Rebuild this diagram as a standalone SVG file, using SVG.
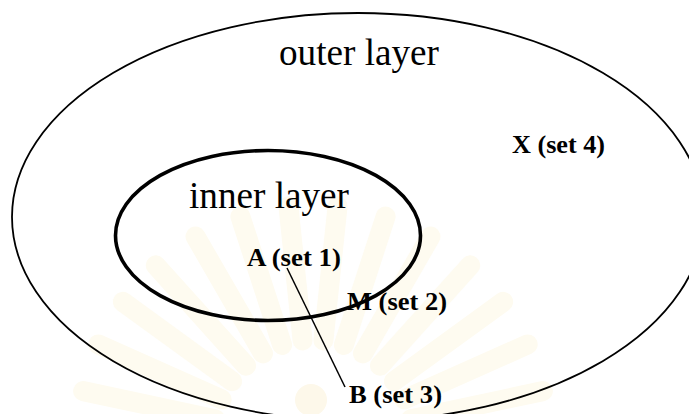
<svg xmlns="http://www.w3.org/2000/svg" width="689" height="414" viewBox="0 0 689 414">
<style>
.ray{stroke:#fefbf0;stroke-width:20;stroke-linecap:round;fill:none}
.layer{fill:none;stroke:#000}
.big{font-family:"Liberation Serif","Times New Roman","DejaVu Serif",serif;font-size:37px;fill:#000}
.lbl{font-family:"Liberation Serif","Times New Roman","DejaVu Serif",serif;font-size:26px;font-weight:bold;fill:#000}
.conn{stroke:#000;stroke-width:1.5;fill:none}
</style>
<rect width="689" height="414" fill="#fff"/>
<g id="watermark">
<g transform="translate(313,440)">
<line class="ray" x1="-100" y1="0" x2="-235" y2="0" transform="rotate(12)"/>
<line class="ray" x1="-100" y1="0" x2="-235" y2="0" transform="rotate(24)"/>
<line class="ray" x1="-100" y1="0" x2="-235" y2="0" transform="rotate(36)"/>
<line class="ray" x1="-100" y1="0" x2="-235" y2="0" transform="rotate(48)"/>
<line class="ray" x1="-100" y1="0" x2="-235" y2="0" transform="rotate(60)"/>
<line class="ray" x1="-100" y1="0" x2="-235" y2="0" transform="rotate(72)"/>
<line class="ray" x1="-100" y1="0" x2="-235" y2="0" transform="rotate(84)"/>
<line class="ray" x1="-100" y1="0" x2="-235" y2="0" transform="rotate(96)"/>
<line class="ray" x1="-100" y1="0" x2="-235" y2="0" transform="rotate(108)"/>
<line class="ray" x1="-100" y1="0" x2="-235" y2="0" transform="rotate(120)"/>
<line class="ray" x1="-100" y1="0" x2="-235" y2="0" transform="rotate(132)"/>
<line class="ray" x1="-100" y1="0" x2="-235" y2="0" transform="rotate(144)"/>
<line class="ray" x1="-100" y1="0" x2="-235" y2="0" transform="rotate(156)"/>
<line class="ray" x1="-100" y1="0" x2="-235" y2="0" transform="rotate(168)"/>
</g>
<circle cx="311" cy="400" r="16" fill="#fdf8ea"/>
</g>
<g id="outer">
<ellipse class="layer" cx="358" cy="217" rx="346" ry="204" stroke-width="1.8"/>
<text class="big" x="279" y="65" textLength="160" lengthAdjust="spacingAndGlyphs">outer layer</text>
</g>
<g id="inner">
<ellipse class="layer" cx="268" cy="235.5" rx="152.5" ry="85" stroke-width="3.6"/>
<text class="big" x="189" y="208" textLength="160" lengthAdjust="spacingAndGlyphs">inner layer</text>
</g>
<g id="connectors">
<line class="conn" x1="287" y1="268" x2="345" y2="387"/>
</g>
<g id="A"><text class="lbl" x="247" y="266" textLength="94" lengthAdjust="spacingAndGlyphs">A (set 1)</text></g>
<g id="M"><text class="lbl" x="347" y="310" textLength="100" lengthAdjust="spacingAndGlyphs">M (set 2)</text></g>
<g id="B"><text class="lbl" x="349" y="403" textLength="93" lengthAdjust="spacingAndGlyphs">B (set 3)</text></g>
<g id="X"><text class="lbl" x="512" y="153" textLength="93" lengthAdjust="spacingAndGlyphs">X (set 4)</text></g>
</svg>
